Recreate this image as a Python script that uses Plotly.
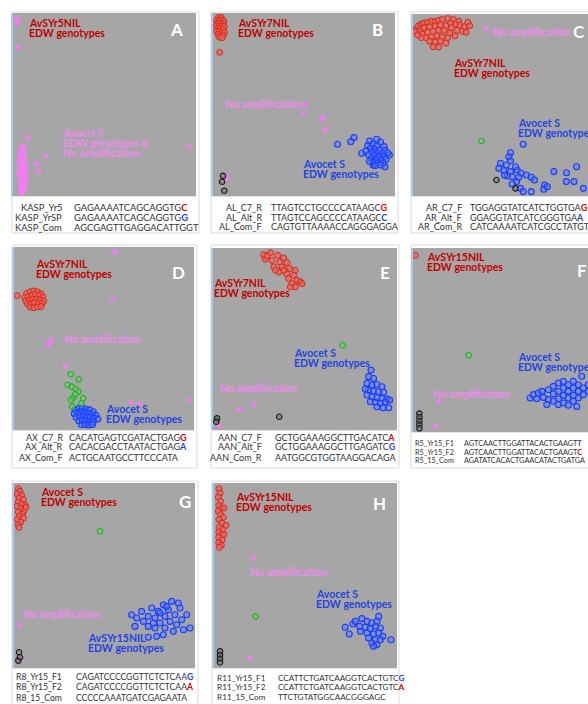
import plotly.graph_objects as go

W, H = 588, 704

# ---------------- data (normalised FAM / HEX signal, 0-1 per panel) ----------------
# Panel A
a_pink_x = [0.018, 0.026, 0.022, 0.027, 0.078, 0.182, 0.128, 0.139, 0.964,
            0.045, 0.055, 0.040, 0.060, 0.050, 0.035, 0.065, 0.045, 0.055, 0.040, 0.070, 0.050,
            0.060, 0.035, 0.045, 0.065, 0.055, 0.040, 0.070, 0.050, 0.060, 0.035, 0.045, 0.065,
            0.055, 0.040, 0.050, 0.060, 0.045, 0.075, 0.075, 0.030, 0.030, 0.060]
a_pink_y = [0.975, 0.956, 0.942, 0.811, 0.318, 0.218, 0.178, 0.138, 0.269,
            0.265, 0.255, 0.240, 0.235, 0.220, 0.210, 0.205, 0.195, 0.185, 0.170, 0.165, 0.155,
            0.145, 0.140, 0.130, 0.120, 0.110, 0.100, 0.095, 0.085, 0.075, 0.070, 0.060, 0.055,
            0.045, 0.035, 0.025, 0.030, 0.015, 0.140, 0.090, 0.120, 0.180, 0.270]

# Panel B
b_red_x = [0.030, 0.045, 0.020, 0.035, 0.050, 0.060, 0.025, 0.040, 0.055, 0.018, 0.033, 0.048, 0.062,
           0.025, 0.040, 0.055, 0.020, 0.035, 0.050, 0.063, 0.028, 0.043, 0.057, 0.035, 0.050, 0.037]
b_red_y = [0.975, 0.975, 0.960, 0.960, 0.962, 0.955, 0.945, 0.945, 0.940, 0.930, 0.930, 0.928, 0.925,
           0.915, 0.912, 0.910, 0.900, 0.898, 0.895, 0.893, 0.883, 0.880, 0.878, 0.868, 0.865, 0.785]
b_pink_x = [0.508, 0.497, 0.598, 0.607, 0.616, 0.077, 0.068]
b_pink_y = [0.502, 0.453, 0.420, 0.431, 0.361, 0.106, 0.088]
b_black_x = [0.055, 0.050, 0.062]
b_black_y = [0.110, 0.078, 0.029]
b_blue_x = [0.684, 0.757, 0.775, 0.817, 0.880, 0.945, 0.969,
            0.860, 0.900, 0.920, 0.880, 0.850, 0.900, 0.940, 0.865, 0.890, 0.915, 0.945, 0.840, 0.875,
            0.900, 0.930, 0.960, 0.855, 0.885, 0.910, 0.940, 0.870, 0.895, 0.925, 0.950, 0.880, 0.905,
            0.935, 0.890, 0.920, 0.860]
b_blue_y = [0.283, 0.297, 0.319, 0.234, 0.170, 0.160, 0.224,
            0.300, 0.310, 0.295, 0.285, 0.275, 0.275, 0.270, 0.260, 0.255, 0.250, 0.250, 0.245, 0.240,
            0.235, 0.232, 0.235, 0.225, 0.220, 0.215, 0.215, 0.205, 0.200, 0.198, 0.200, 0.185, 0.180,
            0.180, 0.165, 0.170, 0.190]

# Panel C
c_red_x = [0.02, 0.03, 0.045, 0.06, 0.08, 0.10, 0.12, 0.14, 0.16, 0.19, 0.22, 0.25, 0.30, 0.31, 0.28,
           0.255, 0.23, 0.205, 0.27, 0.29, 0.24, 0.21, 0.18, 0.15, 0.12, 0.09, 0.06, 0.035, 0.05, 0.08,
           0.11, 0.14, 0.17, 0.20, 0.23, 0.19, 0.16, 0.13, 0.10, 0.07, 0.045, 0.09, 0.12, 0.15, 0.18,
           0.11, 0.14, 0.01, 0.025]
c_red_y = [0.920, 0.935, 0.945, 0.950, 0.955, 0.960, 0.958, 0.965, 0.970, 0.975, 0.970, 0.960, 0.955,
           0.935, 0.930, 0.940, 0.945, 0.950, 0.905, 0.900, 0.910, 0.925, 0.935, 0.940, 0.935, 0.930,
           0.925, 0.905, 0.890, 0.900, 0.905, 0.910, 0.910, 0.895, 0.880, 0.870, 0.875, 0.880, 0.875,
           0.870, 0.870, 0.850, 0.845, 0.850, 0.840, 0.820, 0.818, 0.905, 0.885]
c_pink_x = [0.401]
c_pink_y = [0.921]
c_green_x = [0.374]
c_green_y = [0.302]
c_black_x = [0.456, 0.560]
c_black_y = [0.088, 0.042]
c_blue_x = [0.602, 0.533, 0.524, 0.533, 0.511, 0.478, 0.469, 0.496, 0.533, 0.569, 0.591, 0.620, 0.646,
            0.664, 0.542, 0.566, 0.542, 0.588, 0.602, 0.646, 0.515, 0.560, 0.500, 0.578, 0.719, 0.715,
            0.734, 0.770, 0.839, 0.838, 0.894, 0.931, 0.880]
c_blue_y = [0.284, 0.238, 0.216, 0.194, 0.170, 0.179, 0.152, 0.139, 0.134, 0.143, 0.125, 0.115, 0.103,
            0.088, 0.106, 0.079, 0.066, 0.042, 0.024, 0.024, 0.110, 0.161, 0.115, 0.103, 0.060, 0.037,
            0.051, 0.134, 0.128, 0.079, 0.161, 0.042, 0.079]

# Panel D
d_red_x = [0.07, 0.09, 0.11, 0.13, 0.15, 0.06, 0.08, 0.10, 0.12, 0.14, 0.16, 0.065, 0.085, 0.105, 0.125,
           0.145, 0.165, 0.075, 0.095, 0.115, 0.135, 0.155, 0.09, 0.11, 0.13, 0.15, 0.018]
d_red_y = [0.745, 0.755, 0.760, 0.755, 0.745, 0.725, 0.730, 0.735, 0.740, 0.735, 0.725, 0.705, 0.710,
           0.715, 0.715, 0.710, 0.705, 0.690, 0.690, 0.695, 0.690, 0.690, 0.672, 0.668, 0.672, 0.675, 0.734]
d_pink_x = [0.560, 0.547, 0.196, 0.209, 0.190, 0.287, 0.649, 0.695, 0.976]
d_pink_y = [0.973, 0.715, 0.474, 0.493, 0.465, 0.350, 0.155, 0.142, 0.164]
d_green_x = [0.316, 0.360, 0.298, 0.320, 0.344, 0.357, 0.329, 0.384, 0.316, 0.375, 0.323, 0.340]
d_green_y = [0.305, 0.277, 0.246, 0.237, 0.224, 0.210, 0.177, 0.173, 0.164, 0.146, 0.128, 0.195]
d_blue_x = [0.34, 0.36, 0.38, 0.40, 0.42, 0.44, 0.335, 0.355, 0.375, 0.395, 0.415, 0.435, 0.455, 0.345,
            0.365, 0.385, 0.405, 0.425, 0.445, 0.465, 0.36, 0.38, 0.40, 0.42, 0.44, 0.375, 0.395, 0.415, 0.435]
d_blue_y = [0.110, 0.118, 0.120, 0.115, 0.110, 0.100, 0.090, 0.095, 0.100, 0.095, 0.090, 0.085, 0.080,
            0.070, 0.075, 0.078, 0.070, 0.068, 0.065, 0.060, 0.050, 0.055, 0.050, 0.045, 0.045, 0.030,
            0.030, 0.028, 0.030]

# Panel E
e_red_x = [0.275, 0.312, 0.351, 0.384, 0.284, 0.321, 0.362, 0.402, 0.330, 0.375, 0.417, 0.447, 0.357,
           0.399, 0.438, 0.411, 0.457, 0.429, 0.475, 0.447, 0.484, 0.420, 0.293, 0.339, 0.384]
e_red_y = [0.963, 0.974, 0.960, 0.945, 0.938, 0.932, 0.923, 0.920, 0.896, 0.896, 0.887, 0.877, 0.868,
           0.859, 0.850, 0.832, 0.823, 0.804, 0.814, 0.786, 0.804, 0.786, 0.956, 0.878, 0.878]
e_green_x = [0.705]
e_green_y = [0.466]
e_blue_x = [0.859, 0.846, 0.873, 0.837, 0.864, 0.891, 0.918, 0.846, 0.873, 0.900, 0.928, 0.837, 0.864,
            0.891, 0.918, 0.946, 0.855, 0.882, 0.909, 0.937, 0.891, 0.924, 0.955, 0.828, 0.960]
e_blue_y = [0.329, 0.293, 0.283, 0.256, 0.247, 0.250, 0.238, 0.219, 0.214, 0.210, 0.207, 0.192, 0.183,
            0.177, 0.174, 0.170, 0.155, 0.152, 0.146, 0.155, 0.128, 0.122, 0.122, 0.225, 0.165]
e_pink_x = [0.143, 0.221, 0.031]
e_pink_y = [0.113, 0.137, 0.024]
e_black_x = [0.360, 0.022, 0.018]
e_black_y = [0.073, 0.064, 0.046]

# Panel F
f_red_x = [0.013]
f_red_y = [0.960]
f_green_x = [0.304]
f_green_y = [0.417]
f_pink_x = [0.140, 0.127]
f_pink_y = [0.167, 0.034]
f_black_x = [0.035, 0.035, 0.035, 0.035, 0.035]
f_black_y = [0.100, 0.080, 0.060, 0.040, 0.020]
f_blue_x = [0.640, 0.658, 0.685, 0.704, 0.676, 0.713, 0.740, 0.740, 0.767, 0.767, 0.767, 0.795, 0.795,
            0.795, 0.795, 0.822, 0.822, 0.822, 0.822, 0.849, 0.849, 0.849, 0.849, 0.876, 0.876, 0.876,
            0.876, 0.904, 0.904, 0.904, 0.922, 0.931, 0.931, 0.958, 0.958, 0.985, 0.731, 0.895]
f_blue_y = [0.185, 0.203, 0.212, 0.221, 0.181, 0.188, 0.230, 0.176, 0.248, 0.207, 0.167, 0.266, 0.221,
            0.181, 0.149, 0.275, 0.239, 0.199, 0.158, 0.257, 0.221, 0.185, 0.145, 0.275, 0.239, 0.199,
            0.167, 0.257, 0.221, 0.185, 0.303, 0.239, 0.203, 0.221, 0.257, 0.230, 0.149, 0.139]

# Panel G
g_red_x = [0.024, 0.033, 0.018, 0.042, 0.028, 0.052, 0.024, 0.042, 0.061, 0.018, 0.037, 0.055, 0.024,
           0.046, 0.030, 0.052, 0.018, 0.037, 0.024, 0.028, 0.066]
g_red_y = [0.969, 0.955, 0.941, 0.933, 0.919, 0.910, 0.897, 0.886, 0.879, 0.874, 0.861, 0.850, 0.843,
           0.832, 0.820, 0.811, 0.802, 0.789, 0.775, 0.760, 0.869]
g_green_x = [0.475]
g_green_y = [0.739]
g_pink_x = [0.033, 0.037]
g_pink_y = [0.234, 0.063]
g_black_x = [0.028, 0.024, 0.033]
g_black_y = [0.085, 0.040, 0.058]
g_blue_x = [0.650, 0.678, 0.668, 0.705, 0.715, 0.742, 0.742, 0.761, 0.779, 0.779, 0.797, 0.807, 0.825,
            0.834, 0.834, 0.853, 0.862, 0.871, 0.880, 0.889, 0.899, 0.917, 0.926, 0.936, 0.954, 0.972,
            0.788, 0.742, 0.825, 0.843, 0.807, 0.770, 0.908]
g_blue_y = [0.288, 0.270, 0.225, 0.306, 0.252, 0.279, 0.225, 0.324, 0.270, 0.216, 0.306, 0.243, 0.342,
            0.279, 0.216, 0.315, 0.252, 0.360, 0.198, 0.288, 0.234, 0.324, 0.261, 0.207, 0.288, 0.216,
            0.171, 0.166, 0.180, 0.333, 0.297, 0.243, 0.351]

# Panel H
h_red_x = [0.027, 0.033, 0.024, 0.036, 0.027, 0.042, 0.024, 0.036, 0.051, 0.027, 0.042, 0.066, 0.029,
           0.047, 0.027, 0.042, 0.026, 0.044, 0.027, 0.040, 0.029, 0.055, 0.055]
h_red_y = [0.969, 0.946, 0.923, 0.901, 0.879, 0.865, 0.847, 0.829, 0.814, 0.802, 0.784, 0.771, 0.760,
           0.748, 0.735, 0.721, 0.706, 0.692, 0.677, 0.663, 0.652, 0.865, 0.721]
h_pink_x = [0.215, 0.193]
h_pink_y = [0.595, 0.054]
h_green_x = [0.228]
h_green_y = [0.279]
h_black_x = [0.033, 0.033, 0.033, 0.033]
h_black_y = [0.090, 0.070, 0.050, 0.030]
h_blue_x = [0.717, 0.759, 0.808, 0.739, 0.967, 0.836, 0.863, 0.891, 0.796, 0.827, 0.854, 0.883, 0.909,
            0.800, 0.836, 0.872, 0.900, 0.923, 0.845, 0.881, 0.909, 0.863, 0.890, 0.872, 0.772, 0.900]
h_blue_y = [0.220, 0.238, 0.267, 0.184, 0.153, 0.252, 0.243, 0.252, 0.225, 0.220, 0.213, 0.225, 0.216,
            0.198, 0.189, 0.184, 0.189, 0.171, 0.162, 0.153, 0.153, 0.135, 0.126, 0.117, 0.252, 0.279]

# primer tables (name, sequence, SNP base, SNP colour key)
a_primers = [("KASP_Yr5", "GAGAAAATCAGCAGGTG", "C", "r"), ("KASP_YrSP", "GAGAAAATCAGCAGGTG", "G", "b"),
             ("KASP_Com", "AGCGAGTTGAGGACATTGGT", "", "")]
b_primers = [("AL_C7_R", "TTAGTCCTGCCCCATAAGC", "G", "r"), ("AL_Alt_R", "TTAGTCCAGCCCCATAAGC", "C", "b"),
             ("AL_Com_F", "CAGTGTTAAAACCAGGGAGGA", "", "")]
c_primers = [("AR_C7_F", "TGGAGGTATCATCTGGTGA", "G", "r"), ("AR_Alt_F", "GGAGGTATCATCGGGTGA", "A", "b"),
             ("AR_Com_R", "CATCAAAATCATCGCCTATGT", "", "")]
d_primers = [("AX_C7_R", "CACATGAGTCGATACTGAG", "G", "r"), ("AX_Alt_R", "CACACGACCTAATACTGAG", "A", "b"),
             ("AX_Com_F", "ACTGCAATGCCTTCCCATA", "", "")]
e_primers = [("AAN_C7_F", "GCTGGAAAGGCTTGACATC", "A", "r"), ("AAN_Alt_F", "GCTGGAAAGGCTTGAGATC", "G", "b"),
             ("AAN_Com_R", "AATGGCGTGGTAAGGACAGA", "", "")]
f_primers = [("R5_Yr15_F1", "AGTCAACTTGGATTACACTGAAGT", "T", "b"), ("R5_Yr15_F2", "AGTCAACTTGGATTACACTGAAGT", "C", "r"),
             ("R5_15_Com", "AGATATCACACTGAACATACTGATGA", "", "")]
g_primers = [("R8_Yr15_F1", "CAGATCCCCGGTTCTCTCAA", "G", "b"), ("R8_Yr15_F2", "CAGATCCCCGGTTCTCTCAA", "A", "r"),
             ("R8_15_Com", "CCCCCAAATGATCGAGAATA", "", "")]
h_primers = [("R11_Yr15_F1", "CCATTCTGATCAAGGTCACTGTC", "G", "b"), ("R11_Yr15_F2", "CCATTCTGATCAAGGTCACTGTC", "A", "r"),
             ("R11_15_Com", "TTCTGTATGGCAACGGGAGC", "", "")]

# ---------------- styles ----------------
RED = dict(size=6, color="rgba(238,100,90,0.75)", line=dict(color="#d42a1e", width=1))
BLUE = dict(size=6, color="rgba(80,120,255,0.45)", line=dict(color="#1b3dff", width=1.1))
PINK = dict(size=5, color="#f07ef0", line=dict(width=0))
GREEN = dict(size=5.5, color="rgba(90,220,90,0.45)", line=dict(color="#22b022", width=1.1))
BLACK = dict(size=5.5, color="rgba(110,110,110,0.5)", line=dict(color="#1a1a1a", width=1.1))

C_RED, C_BLUE, C_PINK = "#c00000", "#2343e0", "#f08af0"
FONT = "Lato"
SEQFONT = "Lato"

fig = go.Figure()

# panel geometry: (left, top, right, bottom) in px
panels = [
    (13, 13, 196, 196), (213, 13, 395, 196), (413, 14, 596, 196),
    (14, 247, 194, 430), (213, 248, 397, 430), (413, 248, 596, 432),
    (14, 483, 195, 668), (214, 483, 397, 668),
]
boxes = [
    (12, 12, 199, 233), (211, 12, 398, 233), (411, 12, 600, 233),
    (12, 245, 197, 468), (211, 245, 399, 468), (411, 245, 600, 468),
    (12, 481, 198, 710), (212, 481, 399, 710),
]

series = [
    [(a_pink_x, a_pink_y, PINK)],
    [(b_red_x, b_red_y, RED), (b_blue_x, b_blue_y, BLUE), (b_pink_x, b_pink_y, PINK), (b_black_x, b_black_y, BLACK)],
    [(c_red_x, c_red_y, RED), (c_blue_x, c_blue_y, BLUE), (c_pink_x, c_pink_y, PINK),
     (c_green_x, c_green_y, GREEN), (c_black_x, c_black_y, BLACK)],
    [(d_red_x, d_red_y, RED), (d_blue_x, d_blue_y, BLUE), (d_green_x, d_green_y, GREEN), (d_pink_x, d_pink_y, PINK)],
    [(e_red_x, e_red_y, RED), (e_blue_x, e_blue_y, BLUE), (e_green_x, e_green_y, GREEN),
     (e_pink_x, e_pink_y, PINK), (e_black_x, e_black_y, BLACK)],
    [(f_red_x, f_red_y, RED), (f_blue_x, f_blue_y, BLUE), (f_green_x, f_green_y, GREEN),
     (f_pink_x, f_pink_y, PINK), (f_black_x, f_black_y, BLACK)],
    [(g_red_x, g_red_y, RED), (g_blue_x, g_blue_y, BLUE), (g_green_x, g_green_y, GREEN),
     (g_pink_x, g_pink_y, PINK), (g_black_x, g_black_y, BLACK)],
    [(h_red_x, h_red_y, RED), (h_blue_x, h_blue_y, BLUE), (h_green_x, h_green_y, GREEN),
     (h_pink_x, h_pink_y, PINK), (h_black_x, h_black_y, BLACK)],
]

shapes = []
for i, ((l, t, r, b), (bl, bt, br, bb)) in enumerate(zip(panels, boxes)):
    n = "" if i == 0 else str(i + 1)
    rr = min(r, W)
    fig.layout["xaxis" + n] = dict(domain=[l / W, rr / W], range=[0, (rr - l) / (r - l)],
                                   showgrid=False, zeroline=False, showticklabels=False, ticks="",
                                   showline=True, linecolor="#e4e4e4", linewidth=1,
                                   anchor="y" + n, fixedrange=True)
    fig.layout["yaxis" + n] = dict(domain=[1 - b / H, 1 - t / H], range=[0, 1],
                                   showgrid=False, zeroline=False, showticklabels=False, ticks="",
                                   showline=True, linecolor="#a8c8ec", linewidth=1.5,
                                   anchor="x" + n, fixedrange=True)
    for xs, ys, st in series[i]:
        fig.add_trace(go.Scatter(x=xs, y=ys, mode="markers", marker=st, xaxis="x" + n, yaxis="y" + n,
                                 hoverinfo="skip", showlegend=False, cliponaxis=True))
    shapes.append(dict(type="rect", xref="paper", yref="paper", x0=bl / W, x1=br / W,
                       y0=1 - bb / H, y1=1 - bt / H, line=dict(color="#dadada", width=1), layer="below"))

anns = []


def txt(px, py, text, color, size=10.5, xanchor="left", bold=True, font=FONT):
    anns.append(dict(xref="paper", yref="paper", x=px / W, y=1 - py / H,
                     text=("<b>%s</b>" % text) if bold else text,
                     showarrow=False, xanchor=xanchor, yanchor="middle", borderpad=0,
                     font=dict(family=font, size=size, color=color)))


def lab(px, py, lines, color, step=9.8):
    for k, s in enumerate(lines):
        txt(px, py + k * step, s, color)


# group labels
lab(28, 23, ["AvSYr5NIL", "EDW genotypes"], C_RED)
lab(62, 133, ["Avocrt S", "EDW genotypes &", "No amplification"], C_PINK)
lab(237, 23, ["AvSYr7NIL", "EDW genotypes"], C_RED)
lab(224, 104, ["No amplification"], C_PINK)
lab(302, 164, ["Avocet S", "EDW genotypes"], C_BLUE)
lab(492, 32, ["No amplification"], C_PINK)
lab(453, 63, ["AvSYr7NIL", "EDW genotypes"], C_RED)
lab(517, 123, ["Avocet S", "EDW genotypes"], C_BLUE)
lab(35, 264, ["AvSYr7NIL", "EDW genotypes"], C_RED)
lab(63, 339, ["No amplification"], C_PINK)
lab(105, 409, ["Avocet S", "EDW genotypes"], C_BLUE)
lab(213, 283, ["AvSYr7NIL", "EDW genotypes"], C_RED)
lab(293, 353, ["Avocet S", "EDW genotypes"], C_BLUE)
lab(219, 388, ["No amplification"], C_PINK)
lab(426, 257, ["AvSYr15NIL", "EDW genotypes"], C_RED)
lab(517, 357, ["Avocet S", "EDW genotypes"], C_BLUE)
lab(432, 394, ["No amplification"], C_PINK)
lab(40, 492, ["Avocet S", "EDW genotypes"], C_RED)
lab(22, 614, ["No amplification"], C_PINK)
lab(87, 638, ["AvSYr15NIL", "EDW genotypes"], C_BLUE)
lab(235, 497, ["AvSYr15NIL", "EDW genotypes"], C_RED)
lab(249, 572, ["No amplification"], C_PINK)
lab(315, 594, ["Avocet S", "EDW genotypes"], C_BLUE)

# panel letters
for letter, (px, py) in zip("ABCDEFGH", [(176, 30), (377, 30), (579, 32), (178, 272), (385, 272),
                                           (582, 270), (185, 502), (379, 503)]):
    txt(px, py, letter, "white", size=17, xanchor="center")

# primer tables: (primers, label x, label anchor, seq x, row ys, size)
tables = [
    (a_primers, 63, "right", 73, (208, 217, 227), 9.4),
    (b_primers, 263, "right", 270, (208, 217, 226), 9.0),
    (c_primers, 463, "right", 469, (208, 217, 226), 9.0),
    (d_primers, 64, "right", 68, (437, 447, 457), 9.0),
    (e_primers, 263, "right", 274, (437, 447, 457), 9.0),
    (f_primers, 414, "left", 463, (443, 452, 460), 7.3),
    (g_primers, 15, "left", 75, (677, 687, 698), 8.6),
    (h_primers, 216, "left", 277, (678, 687, 697), 8.2),
]
SNPCOL = {"r": "#e00000", "b": "#1f3fe8"}
for prim, lx, lanc, sx, ys, fs in tables:
    for (name, seq, snp, key), y in zip(prim, ys):
        txt(lx, y, name, "#333333", size=fs, xanchor=lanc, bold=False, font=SEQFONT)
        s = seq
        if snp:
            s += "<b><span style='color:%s'>%s</span></b>" % (SNPCOL[key], snp)
        txt(sx, y, s, "#333333", size=fs, bold=False, font=SEQFONT)

fig.update_layout(width=W, height=H, margin=dict(l=0, r=0, t=0, b=0),
                  paper_bgcolor="white", plot_bgcolor="#a6a6a6",
                  showlegend=False, shapes=shapes, annotations=anns)

fig.write_html("out.html", config={"displayModeBar": False},
               post_script="document.body.style.margin='0';document.body.style.overflow='hidden';")
